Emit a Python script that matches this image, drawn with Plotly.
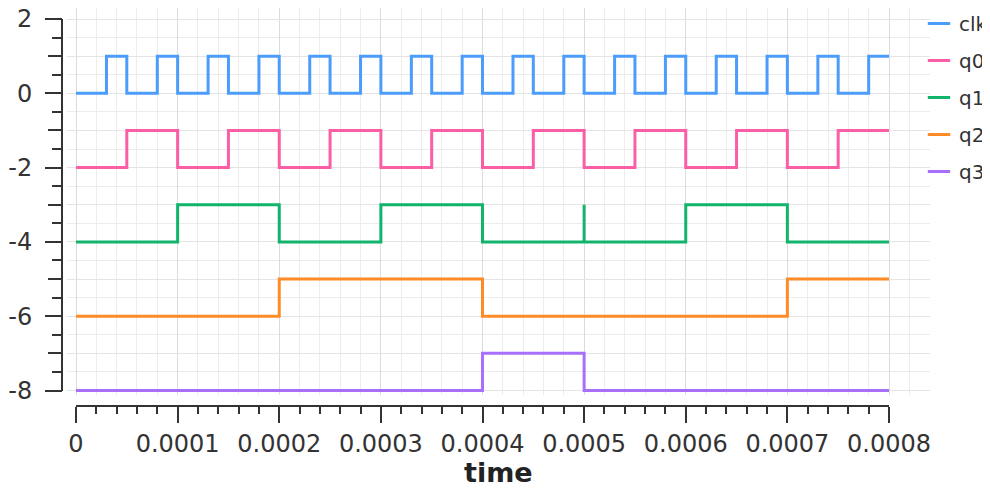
import plotly.graph_objects as go

# ---------------- data (time in seconds, levels as plotted) ----------------
clk_t = [0, 3e-5, 5e-5, 8e-5, 10e-5, 13e-5, 15e-5, 18e-5, 20e-5, 23e-5, 25e-5,
         28e-5, 30e-5, 33e-5, 35e-5, 38e-5, 40e-5, 43e-5, 45e-5, 48e-5, 50e-5,
         53e-5, 55e-5, 58e-5, 60e-5, 63e-5, 65e-5, 68e-5, 70e-5, 73e-5, 75e-5,
         78e-5, 80e-5]
clk_v = [0, 1, 0, 1, 0, 1, 0, 1, 0, 1, 0,
         1, 0, 1, 0, 1, 0, 1, 0, 1, 0,
         1, 0, 1, 0, 1, 0, 1, 0, 1, 0,
         1, 1]

q0_t = [0, 5e-5, 10e-5, 15e-5, 20e-5, 25e-5, 30e-5, 35e-5, 40e-5, 45e-5,
        50e-5, 55e-5, 60e-5, 65e-5, 70e-5, 75e-5, 80e-5]
q0_v = [-2, -1, -2, -1, -2, -1, -2, -1, -2, -1,
        -2, -1, -2, -1, -2, -1, -1]

q1_t = [0, 10e-5, 20e-5, 30e-5, 40e-5, 50e-5, 50e-5, 60e-5, 70e-5, 80e-5]
q1_v = [-4, -3, -4, -3, -4, -3, -4, -3, -4, -4]

q2_t = [0, 20e-5, 40e-5, 70e-5, 80e-5]
q2_v = [-6, -5, -6, -5, -5]

q3_t = [0, 40e-5, 50e-5, 80e-5]
q3_v = [-8, -7, -8, -8]

names = ["clk", "q0", "q1", "q2", "q3"]
colors = ["#4c9dfb", "#fc5ea6", "#12b46c", "#ff8b26", "#a86ffb"]

x_tick_vals = [0, 1e-4, 2e-4, 3e-4, 4e-4, 5e-4, 6e-4, 7e-4, 8e-4]
x_tick_text = ["0", "0.0001", "0.0002", "0.0003", "0.0004", "0.0005",
               "0.0006", "0.0007", "0.0008"]
y_tick_vals = [-8, -6, -4, -2, 0, 2]
y_tick_text = ["-8", "-6", "-4", "-2", "0", "2"]

# ---------------- layout geometry (screen pixels) ----------------
W, H = 990, 491
OFF = 8  # page body margin in the browser
def fx(p):
    return (p - OFF) / W
def fy(p):
    return 1 - (p - OFF) / H

PLOT_L, PLOT_R, PLOT_T, PLOT_B = 67, 930, 8, 395
X0_PX, X1_PX = 76, 889      # pixel of time 0 and 0.0008
Y2_PX, YM8_PX = 19, 390.5   # pixel of level 2 and -8
xs = (x_tick_vals[-1] - x_tick_vals[0]) / (X1_PX - X0_PX)
ys = (y_tick_vals[-1] - y_tick_vals[0]) / (YM8_PX - Y2_PX)
x_lo = x_tick_vals[0] - (X0_PX - PLOT_L) * xs
x_hi = x_tick_vals[-1] + (PLOT_R - X1_PX) * xs
y_hi = y_tick_vals[-1] + (Y2_PX - PLOT_T) * ys
y_lo = y_tick_vals[0] - (PLOT_B - YM8_PX) * ys

FONT = "DejaVu Sans"
AX = "#333333"
TICK_FONT = dict(family=FONT, size=24, color=AX)

series = [(names[0], clk_t, clk_v), (names[1], q0_t, q0_v), (names[2], q1_t, q1_v),
          (names[3], q2_t, q2_v), (names[4], q3_t, q3_v)]

fig = go.Figure()

# carrier traces for the offset tick axes (drawn first, invisible)
fig.add_trace(go.Scatter(x=[x_tick_vals[0], x_tick_vals[-1]], y=[None, None],
                         xaxis="x2", yaxis="y4", showlegend=False, hoverinfo="skip"))
fig.add_trace(go.Scatter(x=[None, None], y=[y_tick_vals[0], y_tick_vals[-1]],
                         xaxis="x3", yaxis="y2", showlegend=False, hoverinfo="skip"))
fig.add_trace(go.Scatter(x=[None, None], y=[y_tick_vals[0], y_tick_vals[-1]],
                         xaxis="x3", yaxis="y3", showlegend=False, hoverinfo="skip"))

for (name, t, v), c in zip(series, colors):
    fig.add_trace(go.Scatter(x=t, y=v, mode="lines", name=name, legendgroup=name,
                             showlegend=False, xaxis="x", yaxis="y",
                             line=dict(color=c, width=3, shape="hv")))
    fig.add_trace(go.Scatter(x=[None], y=[None], mode="markers", name=name,
                             legendgroup=name, showlegend=True, xaxis="x", yaxis="y",
                             marker=dict(symbol="line-ew", size=16, color=c,
                                         line=dict(color=c, width=3))))

fig.update_layout(
    width=W, height=H,
    margin=dict(l=0, r=0, t=0, b=0, autoexpand=False),
    paper_bgcolor="white",
    plot_bgcolor="rgba(0,0,0,0)",
    font=dict(family=FONT, color=AX),
    xaxis=dict(domain=[fx(PLOT_L), fx(PLOT_R)], range=[x_lo, x_hi], anchor="y",
               showgrid=True, gridcolor="#dcdcdc", gridwidth=1, tick0=0, dtick=1e-4,
               minor=dict(dtick=2e-5, tick0=0, showgrid=True, gridcolor="#ececec"),
               showticklabels=False, ticks="", zeroline=False, showline=False),
    yaxis=dict(domain=[fy(PLOT_B), fy(PLOT_T)], range=[y_lo, y_hi], anchor="x",
               showgrid=True, gridcolor="#e4e4e4", tick0=0, dtick=1,
               minor=dict(dtick=0.5, tick0=0, showgrid=True, gridcolor="#ececec"),
               showticklabels=False, ticks="", zeroline=False, showline=False),
    xaxis2=dict(domain=[fx(X0_PX), fx(X1_PX)], range=[x_tick_vals[0], x_tick_vals[-1]],
                anchor="free", position=fy(406), side="bottom",
                showline=True, linecolor=AX, linewidth=2,
                ticks="outside", ticklen=16, tickwidth=2, tickcolor=AX,
                tickvals=x_tick_vals, ticktext=x_tick_text, tickfont=TICK_FONT,
                ticklabeloverflow="allow",
                minor=dict(dtick=2e-5, tick0=0, ticks="outside", ticklen=7,
                           tickwidth=2, tickcolor=AX, showgrid=False),
                showgrid=False, zeroline=False, automargin=False),
    xaxis3=dict(domain=[fx(PLOT_L), fx(PLOT_R)], range=[x_lo, x_hi], visible=False,
                anchor="y2", showgrid=False, zeroline=False),
    yaxis4=dict(domain=[fy(PLOT_B), fy(PLOT_T)], range=[y_lo, y_hi], visible=False,
                anchor="x2", showgrid=False, zeroline=False),
    yaxis2=dict(domain=[fy(YM8_PX), fy(Y2_PX)], range=[y_tick_vals[0], y_tick_vals[-1]],
                anchor="free", position=fx(62), side="left",
                showline=True, linecolor=AX, linewidth=2,
                ticks="outside", ticklen=13, tickwidth=2, tickcolor=AX,
                tick0=0, dtick=1, showticklabels=False,
                minor=dict(dtick=0.5, tick0=0, ticks="outside", ticklen=9,
                           tickwidth=2, tickcolor=AX, showgrid=False),
                showgrid=False, zeroline=False, automargin=False),
    yaxis3=dict(domain=[fy(YM8_PX), fy(Y2_PX)], range=[y_tick_vals[0], y_tick_vals[-1]],
                anchor="free", position=fx(62), side="left",
                showline=False, ticks="outside", ticklen=17, tickwidth=2, tickcolor=AX,
                tickvals=y_tick_vals, ticktext=y_tick_text, tickfont=TICK_FONT,
                ticklabelstandoff=8, ticklabeloverflow="allow",
                showgrid=False, zeroline=False, automargin=False),
    legend=dict(x=fx(919), y=fy(4), xanchor="left", yanchor="top",
                font=dict(family=FONT, size=20, color=AX),
                bgcolor="rgba(0,0,0,0)", tracegroupgap=8, itemclick=False),
    annotations=[dict(text="time", xref="x domain", yref="paper", x=0.5, y=fy(472),
                      xanchor="center", yanchor="middle", showarrow=False,
                      font=dict(family=FONT, size=27, color="#222222", weight="bold"))],
    showlegend=True,
)

fig.write_html("out.html")
